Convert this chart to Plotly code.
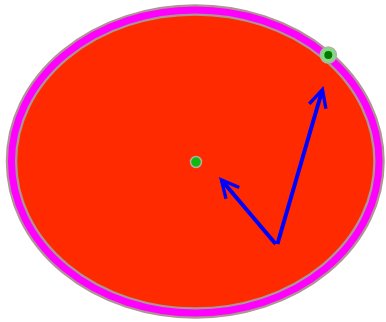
import plotly.graph_objects as go

# Geometry (data units, 1 unit ~ 50 px)
ellipse_center = [0.0, 0.0]
ellipse_axes = [3.675, 3.03]          # semi-axes a, b
center_point = [0.015, -0.01]
point_on_ellipse = [2.661, 2.13]
arrow_base = [1.635, -1.68]
arrow_tips_x = [0.475, 2.565]
arrow_tips_y = [-0.31, 1.51]

FILL = "#ff2a00"
RIM = "#ff00ff"
RIM_EDGE = "#b09494"
BLUE = "#0000ff"

fig = go.Figure()

cx, cy = ellipse_center
a, b = ellipse_axes
shape_kw = dict(type="circle", xref="x", yref="y",
                x0=cx - a, x1=cx + a, y0=cy - b, y1=cy + b)
fig.add_shape(**shape_kw, fillcolor=FILL, line=dict(color=RIM_EDGE, width=11.5), layer="below")
fig.add_shape(**shape_kw, fillcolor="rgba(0,0,0,0)", line=dict(color=RIM, width=7), layer="below")

# center point
fig.add_trace(go.Scatter(x=[center_point[0]], y=[center_point[1]], mode="markers",
                         marker=dict(size=11, color="#12b812",
                                     line=dict(color="#b0b0a0", width=1.5)),
                         hoverinfo="skip", showlegend=False))
# point on ellipse: halo + dot
fig.add_trace(go.Scatter(x=[point_on_ellipse[0]], y=[point_on_ellipse[1]], mode="markers",
                         marker=dict(size=16, color="#86d886",
                                     line=dict(color="#a8b8a0", width=1.5)),
                         hoverinfo="skip", showlegend=False))
fig.add_trace(go.Scatter(x=[point_on_ellipse[0]], y=[point_on_ellipse[1]], mode="markers",
                         marker=dict(size=8, color="#007a00"),
                         hoverinfo="skip", showlegend=False))

for tx, ty in zip(arrow_tips_x, arrow_tips_y):
    fig.add_annotation(x=tx, y=ty, ax=arrow_base[0], ay=arrow_base[1],
                       xref="x", yref="y", axref="x", ayref="y",
                       text="", showarrow=True, arrowhead=5, arrowsize=0.85,
                       arrowwidth=4, arrowcolor=BLUE, standoff=0, startstandoff=0)

fig.update_xaxes(range=[-3.905, 3.815], visible=False, showgrid=False, zeroline=False)
fig.update_yaxes(range=[-3.21, 3.23], visible=False, showgrid=False, zeroline=False)
fig.update_layout(width=386, height=322, autosize=False,
                  margin=dict(l=0, r=0, t=0, b=0),
                  paper_bgcolor="white", plot_bgcolor="white")

fig.write_html("out.html", config={"displayModeBar": False},
               post_script="document.body.style.margin='0';document.body.style.overflow='hidden';")
